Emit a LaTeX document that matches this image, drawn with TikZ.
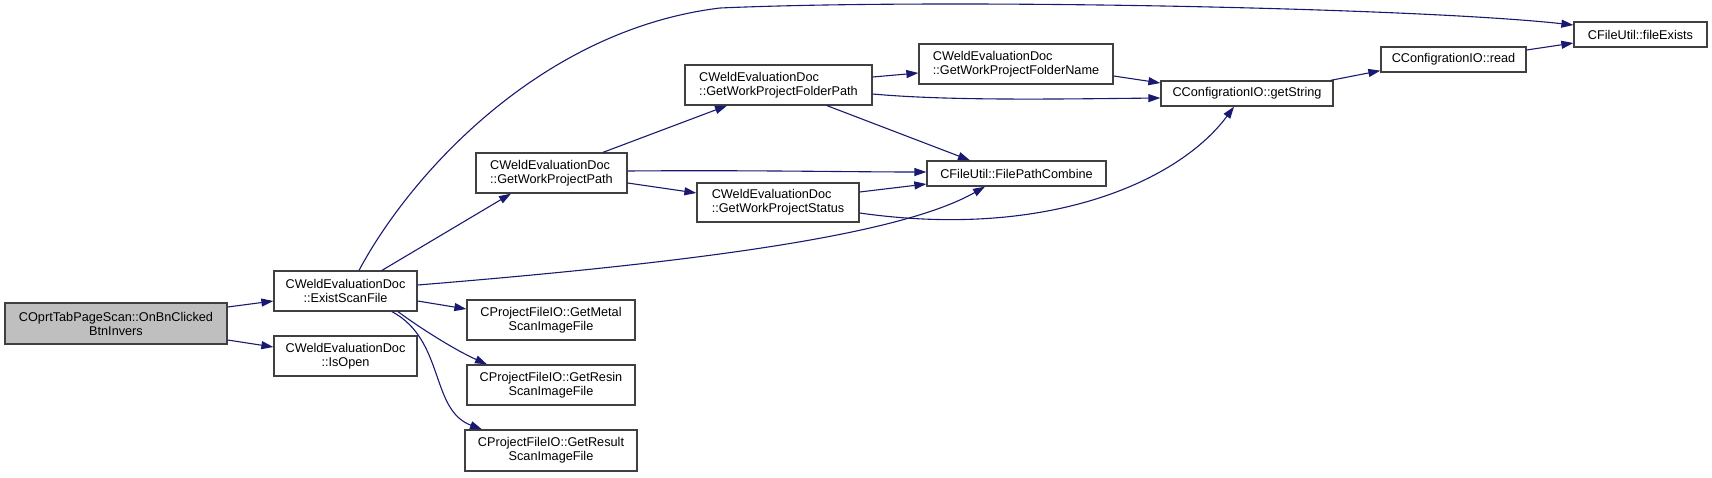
\documentclass[tikz,border=0pt]{standalone}
\usepackage{fontspec}
\setmainfont{Liberation Sans}
\usetikzlibrary{arrows.meta}
\definecolor{edgeblue}{HTML}{191970}
\definecolor{boxline}{HTML}{404040}
\definecolor{rootgray}{HTML}{BFBFBF}

\begin{document}
\begin{tikzpicture}[x=1pt,y=-1pt,
  fn/.style={draw=boxline,line width=1.3pt,fill=white,inner sep=0pt,
    font=\fontsize{12.7}{14}\selectfont},
  call/.style={draw=edgeblue,line width=1.1pt,-{Triangle[length=12pt,width=8pt]}}]
  \useasboundingbox (0,0) rectangle (1712,477);
  % functions
  \node[fn,fill=rootgray,minimum width=222pt,minimum height=41pt,align=center] (root) at (116,323.5) {COprtTabPageScan::OnBnClicked\\BtnInvers};
  \node[fn,minimum width=143pt,minimum height=40pt,align=center] (exist) at (345.5,291) {CWeldEvaluationDoc\\::ExistScanFile};
  \node[fn,minimum width=143pt,minimum height=40pt,align=center] (isopen) at (345.5,356) {CWeldEvaluationDoc\\::IsOpen};
  \node[fn,minimum width=151pt,minimum height=40pt,align=left] (path) at (551.5,173) {CWeldEvaluationDoc\\::GetWorkProjectPath};
  \node[fn,minimum width=187pt,minimum height=40pt,align=left] (folderpath) at (778.5,85) {CWeldEvaluationDoc\\::GetWorkProjectFolderPath};
  \node[fn,minimum width=162pt,minimum height=39pt,align=left] (status) at (778,202.5) {CWeldEvaluationDoc\\::GetWorkProjectStatus};
  \node[fn,minimum width=168pt,minimum height=40pt,align=center] (metal) at (551,320) {CProjectFileIO::GetMetal\\ScanImageFile};
  \node[fn,minimum width=168pt,minimum height=40pt,align=center] (resin) at (551,385) {CProjectFileIO::GetResin\\ScanImageFile};
  \node[fn,minimum width=172pt,minimum height=41pt,align=center] (result) at (551,450.5) {CProjectFileIO::GetResult\\ScanImageFile};
  \node[fn,minimum width=194pt,minimum height=40pt,align=left] (foldername) at (1016,64) {CWeldEvaluationDoc\\::GetWorkProjectFolderName};
  \node[fn,minimum width=179pt,minimum height=25pt] (combine) at (1016.5,173.5) {CFileUtil::FilePathCombine};
  \node[fn,minimum width=172pt,minimum height=25pt] (getstring) at (1247,93.5) {CConfigrationIO::getString};
  \node[fn,minimum width=145pt,minimum height=25pt] (read) at (1453.5,59.5) {CConfigrationIO::read};
  \node[fn,minimum width=133pt,minimum height=25pt] (fileexists) at (1640.5,34.5) {CFileUtil::fileExists};

  % calls
  \draw[call] ([yshift=16.5pt]root.east) -- ([yshift=-10pt]exist.west);
  \draw[call] ([yshift=-16.5pt]root.east) -- ([yshift=9pt]isopen.west);
  \draw[call] ([xshift=13.5pt]exist.north) .. controls (410,175) and (540,30) .. (720,8)
    .. controls (950,-2) and (1420,8) .. ([yshift=9.5pt]fileexists.west);
  \draw[call] ([xshift=36.5pt]exist.north) -- ([xshift=-40.5pt]path.south);
  \draw[call] ([yshift=6pt]exist.east) .. controls (700,262) and (900,235) .. ([xshift=-31.5pt]combine.south);
  \draw[call] ([yshift=-10pt]exist.east) -- ([yshift=11pt]metal.west);
  \draw[call] ([xshift=52.5pt]exist.south) .. controls (420,328) and (455,350) .. ([xshift=-64pt]resin.north);
  \draw[call] ([xshift=46.5pt]exist.south) .. controls (445,340) and (430,410) .. ([xshift=-69pt]result.north);
  \draw[call] ([xshift=51.5pt]path.north) -- ([xshift=-51.5pt]folderpath.south);
  \draw[call] ([yshift=2pt]path.east) .. controls (750,170) and (850,172) .. ([yshift=1.5pt]combine.west);
  \draw[call] ([yshift=-10pt]path.east) -- ([yshift=9.5pt]status.west);
  \draw[call] ([yshift=8pt]folderpath.east) -- ([yshift=-9pt]foldername.west);
  \draw[call] ([yshift=-9pt]folderpath.east) .. controls (950,101) and (1060,99) .. ([yshift=-4.5pt]getstring.west);
  \draw[call] ([xshift=48.5pt]folderpath.south) -- ([xshift=-46.5pt]combine.north);
  \draw[call] ([yshift=10.5pt]status.east) -- ([yshift=-10.5pt]combine.west);
  \draw[call] ([yshift=-10.5pt]status.east) .. controls (1050,240) and (1180,180) .. ([xshift=-13pt]getstring.south);
  \draw[call] ([yshift=-12pt]foldername.east) -- ([yshift=10.5pt]getstring.west);
  \draw[call] ([xshift=-3pt]getstring.north east) -- ([yshift=2pt]read.south west);
  \draw[call] ([yshift=9.5pt]read.east) -- ([yshift=-8.5pt]fileexists.west);
\end{tikzpicture}
\end{document}
